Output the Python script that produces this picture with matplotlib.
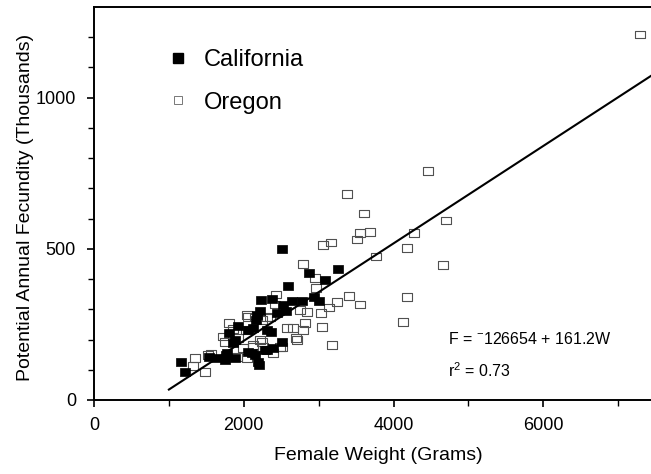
import matplotlib
matplotlib.use("Agg")
import matplotlib.pyplot as plt
import numpy as np
from matplotlib.lines import Line2D

plt.rcParams['font.family'] = ['Liberation Sans', 'DejaVu Sans']
plt.rcParams['mathtext.fontset'] = 'custom'
plt.rcParams['mathtext.rm'] = 'Liberation Sans'
plt.rcParams['mathtext.it'] = 'Liberation Sans'

# California (filled squares): weight (g), fecundity (thousands)
cal_w = [2510, 2870, 3258, 3084, 2590, 2937, 3004, 2777, 2644, 2230, 2377, 2523, 2443, 2563,
         2176, 2163, 2216, 1923, 2123, 2310, 2360, 2056, 1800, 1883, 1856, 2510, 2056, 1776,
         1762, 1749, 1883, 2190, 2200, 2150, 2310, 2390, 2110, 2283, 1629, 1535, 1162, 1215]
cal_f = [500, 421, 434, 397, 377, 341, 328, 328, 328, 331, 334, 315, 288, 295,
         281, 265, 295, 245, 238, 232, 226, 232, 220, 199, 189, 192, 159, 156,
         149, 132, 139, 126, 117, 149, 166, 172, 156, 166, 139, 142, 126, 93]

# Oregon (open squares)
ore_w = [7290, 4459, 3378, 3605, 3685, 3551, 3511, 4700, 4272, 3164, 3057, 4179, 3765, 4660,
         2790, 2950, 2964, 2430, 3405, 3244, 3551, 4179, 3138, 3031, 2844, 2750, 4125, 3044,
         2817, 2790, 2710, 2697, 3178, 2483, 2256, 2216, 2123, 2657, 2577, 2417, 2310, 2056,
         2043, 1802, 1856, 1722, 1749, 1562, 1349, 1322, 1482, 2243, 2123, 1990, 2043, 2390,
         2510, 1909, 1522, 2350, 2150, 2243, 2030, 1923]
ore_f = [1209, 758, 682, 616, 556, 553, 530, 593, 553, 520, 513, 503, 474, 447,
         450, 404, 371, 348, 344, 324, 315, 341, 305, 288, 291, 298, 258, 242,
         255, 232, 199, 205, 182, 175, 175, 199, 175, 238, 238, 315, 275, 275,
         281, 255, 235, 209, 192, 152, 139, 113, 93, 192, 182, 172, 139, 156,
         175, 142, 149, 272, 272, 265, 232, 205]

# Regression F = -126654 + 161.2 W  (F in eggs; plotted in thousands)
intercept = -126654
slope = 161.2
line_range = [1000, 7450]

x_ticks = [0, 2000, 4000, 6000]
y_ticks = [0, 500, 1000]

fig = plt.figure(figsize=(6.51, 4.74), dpi=100)
ax = fig.add_axes([94 / 651, 1 - 400 / 474, 557 / 651, 393 / 474])

# custom rectangle markers
open_rect = [(-1.4, -1), (1.4, -1), (1.4, 1), (-1.4, 1), (-1.4, -1)]
fill_rect = [(-1.15, -1), (1.15, -1), (1.15, 1), (-1.15, 1), (-1.15, -1)]

ax.scatter(ore_w, ore_f, marker=open_rect, s=55, facecolors='none',
           edgecolors='#505050', linewidths=0.8, zorder=3)
ax.scatter(cal_w, cal_f, marker=fill_rect, s=50, facecolors='black',
           edgecolors='black', linewidths=0.5, zorder=4)

lw = np.array(line_range, dtype=float)
ax.plot(lw, (intercept + slope * lw) / 1000.0, color='black', lw=1.5, zorder=5)

ax.set_xlim(0, 7437)
ax.set_ylim(0, 1300)
ax.set_xticks(x_ticks)
ax.set_xticklabels([str(t) for t in x_ticks])
ax.set_xticks([1000, 3000, 5000, 7000], minor=True)
ax.set_yticks(y_ticks)
ax.set_yticklabels([str(t) for t in y_ticks])
ax.set_yticks([t for t in range(100, 1300, 100) if t not in y_ticks], minor=True)

for s in ['left', 'bottom', 'top']:
    ax.spines[s].set_linewidth(1.4)
ax.spines['right'].set_visible(False)

ax.tick_params(axis='both', which='major', direction='out', length=5, width=1.2,
               labelsize=13, color='black')
ax.tick_params(axis='both', which='minor', direction='out', length=4, width=1.0)
ax.tick_params(axis='x', which='major', pad=7)
ax.tick_params(axis='y', which='major', pad=8)

ax.set_xlabel('Female Weight (Grams)', fontsize=14)
ax.set_ylabel('Potential Annual Fecundity (Thousands)', fontsize=14)
ax.xaxis.set_label_coords(0.51, -0.12)
ax.yaxis.set_label_coords(-0.108, 0.49)

handles = [
    Line2D([], [], marker='s', linestyle='none', markerfacecolor='black',
           markeredgecolor='black', markersize=7),
    Line2D([], [], marker='s', linestyle='none', markerfacecolor='none',
           markeredgecolor='#777777', markeredgewidth=0.7, markersize=6),
]
ax.legend(handles, ['California', 'Oregon'], loc='upper left',
          bbox_to_anchor=(0.13, 0.892), frameon=False, fontsize=17,
          handlelength=1.0, handletextpad=0.6, labelspacing=0.85,
          borderpad=0, borderaxespad=0)

ax.text(0.635, 0.155, r'F = $^{-}$126654 + 161.2W', transform=ax.transAxes,
        fontsize=11.5, ha='left', va='center')
ax.text(0.635, 0.075, r'r$^{2}$ = 0.73', transform=ax.transAxes,
        fontsize=11.5, ha='left', va='center')

fig.savefig('out.png', dpi=100)
